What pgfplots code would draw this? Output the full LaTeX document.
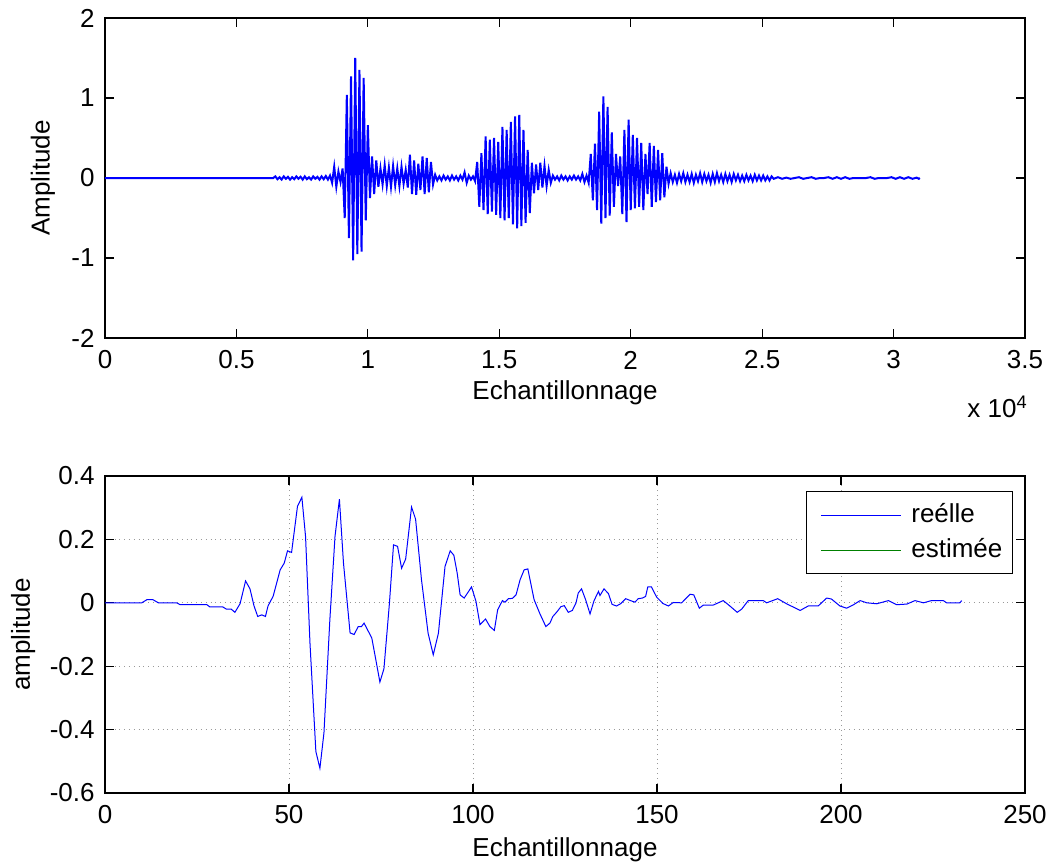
\documentclass[border=0pt]{standalone}
\usepackage{fontspec}
\setmainfont{Liberation Sans}
\usepackage{pgfplots}
\pgfplotsset{compat=1.18}
\definecolor{mblue}{RGB}{0,0,255}
\definecolor{mgreen}{RGB}{0,128,0}
\pgfplotsset{
  mstyle/.style={
    scale only axis, width=460pt,
    axis line style={line width=0.8pt},
    tick style={black, line width=0.6pt},
    major tick length=4.5pt,
    tick align=inside,
    xtick pos=both, ytick pos=both,
    /pgf/number format/assume math mode=true,
    tick label style={font=\fontsize{13pt}{15.6pt}\selectfont},
    label style={font=\fontsize{13pt}{15.6pt}\selectfont},
    xticklabel style={anchor=center, yshift=-11pt},
    yticklabel style={anchor=east, inner sep=0pt, xshift=-5pt},
    scaled ticks=false,
    clip=true,
  }
}
\pgfplotstableread{
x y
0 0
6400 0
6480 0.02
6560 -0.015
6640 0.01
6720 -0.02
6800 0.02
6880 -0.01
6960 0.015
7040 -0.02
7120 0.01
7200 -0.015
7280 0.02
7360 -0.01
7440 0.015
7520 -0.02
7600 0.02
7680 -0.015
7760 0.01
7840 -0.02
7920 0.02
8000 -0.01
8080 0.015
8160 -0.02
8240 0.02
8320 -0.015
8400 0.025
8480 -0.02
8560 0.03
8640 -0.06
8720 0.14
8800 -0.11
8880 0.08
8960 -0.05
9040 0.12
9120 -0.5
9200 1.04
9280 -0.75
9360 1.27
9440 -1.03
9520 1.5
9600 -0.95
9680 1.35
9760 -0.92
9840 1.25
9920 -0.53
10000 0.66
10080 -0.25
10160 0.27
10240 -0.2
10320 0.22
10400 -0.11
10480 0.12
10560 -0.08
10640 0.16
10720 -0.1
10800 0.13
10880 -0.11
10960 0.15
11040 -0.09
11120 0.12
11200 -0.1
11280 0.14
11360 -0.07
11440 0.1
11520 -0.12
11600 0.29
11680 -0.2
11760 0.22
11840 -0.21
11920 0.18
12000 -0.15
12080 0.27
12160 -0.2
12240 0.25
12320 -0.18
12400 0.2
12480 -0.08
12560 0.04
12640 -0.03
12720 0.02
12800 -0.03
12880 0.03
12960 -0.02
13040 0.02
13120 -0.03
13200 0.03
13280 -0.02
13360 0.02
13440 -0.03
13520 0.03
13600 -0.02
13680 0.07
13760 -0.06
13840 0.03
13920 -0.02
14000 0.02
14080 -0.04
14160 0.2
14240 -0.36
14320 0.31
14400 -0.4
14480 0.52
14560 -0.45
14640 0.48
14720 -0.42
14800 0.5
14880 -0.46
14960 0.45
15040 -0.5
15120 0.64
15200 -0.53
15280 0.6
15360 -0.5
15440 0.7
15520 -0.58
15600 0.77
15680 -0.63
15760 0.79
15840 -0.6
15920 0.6
16000 -0.56
16080 0.35
16160 -0.44
16240 0.19
16320 -0.19
16400 0.17
16480 -0.15
16560 0.19
16640 -0.12
16720 0.15
16800 -0.1
16880 0.1
16960 -0.06
17040 0.03
17120 -0.02
17200 0.02
17280 -0.03
17360 0.03
17440 -0.02
17520 0.02
17600 -0.03
17680 0.02
17760 -0.02
17840 0.03
17920 -0.02
18000 0.02
18080 -0.03
18160 0.05
18240 -0.05
18320 0.03
18400 -0.06
18480 0.3
18560 -0.28
18640 0.43
18720 -0.4
18800 0.83
18880 -0.57
18960 1.02
19040 -0.5
19120 0.89
19200 -0.47
19280 0.57
19360 -0.36
19440 0.3
19520 -0.1
19600 0.27
19680 -0.45
19760 0.6
19840 -0.55
19920 0.73
20000 -0.4
20080 0.54
20160 -0.38
20240 0.5
20320 -0.36
20400 0.44
20480 -0.4
20560 0.3
20640 -0.2
20720 0.44
20800 -0.36
20880 0.4
20960 -0.3
21040 0.35
21120 -0.28
21200 0.31
21280 -0.24
21360 0.14
21440 -0.07
21520 0.06
21600 -0.05
21680 0.04
21760 -0.06
21840 0.05
21920 -0.04
22000 0.06
22080 -0.05
22160 0.04
22240 -0.05
22320 0.05
22400 -0.06
22480 0.04
22560 -0.04
22640 0.06
22720 -0.05
22800 0.05
22880 -0.04
22960 0.04
23040 -0.06
23120 0.05
23200 -0.05
23280 0.06
23360 -0.04
23440 0.04
23520 -0.05
23600 0.05
23680 -0.04
23760 0.04
23840 -0.05
23920 0.05
24000 -0.03
24080 0.04
24160 -0.04
24240 0.03
24320 -0.04
24400 0.04
24480 -0.03
24560 0.03
24640 -0.04
24720 0.04
24800 -0.03
24880 0.03
24960 -0.03
25040 0.03
25120 -0.03
25200 0.02
25280 -0.03
25360 0.02
25440 -0.01
25600 0.01
25760 -0.01
25920 0.005
26080 -0.01
26240 0
26400 0.01
26560 -0.01
26720 0
26880 0.01
27040 -0.01
27200 0
27360 0
27520 0.01
27680 -0.01
27840 0.01
28000 -0.01
28160 0.01
28320 -0.01
28480 0
28640 0
28800 0
28960 0
29120 0.01
29280 -0.01
29440 0
29600 0
29760 0
29920 0.01
30080 -0.01
30240 0.01
30400 -0.01
30560 0.01
30720 -0.01
30880 0.005
30960 -0.01
31000 0
}\signal
\pgfplotstableread{
x y
0 0
10 0
11.4 0.01
13 0.01
14.5 0
19.5 0
20.4 -0.006
27.7 -0.006
28.5 -0.013
32 -0.013
33 -0.02
34.3 -0.02
35.3 -0.03
36.7 -0.003
38.2 0.069
39.4 0.044
40.5 -0.01
41.5 -0.043
42.6 -0.038
43.6 -0.043
44.3 -0.01
45.7 0.021
47.6 0.104
48.7 0.125
49.6 0.164
50.7 0.159
52.3 0.304
53.5 0.333
54.5 0.209
55.7 -0.127
57.3 -0.469
58.4 -0.522
59.5 -0.41
61.1 -0.054
62.5 0.209
63.7 0.327
64.8 0.126
66.6 -0.095
67.7 -0.1
68.8 -0.075
69.7 -0.075
70.4 -0.064
72.5 -0.111
73.6 -0.18
74.7 -0.25
75.8 -0.208
77.3 0
78.4 0.183
79.5 0.178
80.6 0.109
81.7 0.138
82.4 0.209
83.3 0.302
84.4 0.264
86.0 0.073
87.8 -0.096
89.2 -0.164
90.6 -0.096
92.4 0.115
93.8 0.164
94.8 0.150
95.7 0.094
96.5 0.025
97.6 0.015
99.6 0.05
100.8 0.005
101.9 -0.069
103.4 -0.051
104.6 -0.075
105.8 -0.087
106.7 -0.022
108 0.007
108.7 0.002
109.6 0.013
110.7 0.014
111.7 0.025
112.8 0.073
113.9 0.104
114.9 0.107
116.6 0.01
118.2 -0.035
119.8 -0.075
120.9 -0.064
121.7 -0.043
122.7 -0.03
123.9 -0.012
124.8 -0.009
125.9 -0.03
127 -0.024
128 0
128.6 0.031
129.5 0.044
130.6 0.01
131.8 -0.035
132.9 0.007
134.1 0.036
134.5 0.023
135.6 0.044
136.8 0.029
137.8 -0.005
139 -0.01
140.1 -0.003
141.5 0.013
142.8 0.007
144 0.002
144.9 0.013
146 0.015
146.9 0.02
147.5 0.05
148.5 0.05
149.9 0.018
151.6 -0.002
153.1 -0.01
154.4 0.001
156.7 0
159 0.027
160 0.025
161.5 -0.017
162.6 -0.007
165.3 -0.007
168 0.007
169.8 -0.01
171.8 -0.03
173 -0.02
174.8 0.007
178.9 0.007
179.8 0
182.8 0.013
185.2 -0.003
188.9 -0.024
191.1 -0.01
193.8 -0.01
196.1 0.015
197.4 0.012
199.7 -0.01
201.5 -0.017
203.4 -0.006
205.2 0.007
207 0
209.7 -0.003
212.9 0.007
215.1 -0.006
217.9 -0.004
220.1 0.007
222.4 0
224.6 0.007
227.8 0.007
228.7 0
232.3 0
232.8 0.007
}\zoomed
\begin{document}
\fontsize{13pt}{15.6pt}\selectfont
\begin{tikzpicture}
\useasboundingbox (-52.5pt,-264.5pt) rectangle (474.5pt,169pt);
\begin{axis}[mstyle, name=top, at={(0,0)}, anchor=south west,
  height=160pt,
  xmin=0, xmax=35000, ymin=-2, ymax=2,
  xtick={0,5000,10000,15000,20000,25000,30000,35000},
  xticklabels={0,0.5,1,1.5,2,2.5,3,3.5},
  ytick={-2,-1,0,1,2},
  xlabel={Echantillonnage}, ylabel={Amplitude},
  xlabel style={at={(axis description cs:0.5,0)}, anchor=center, yshift=-27.5pt},
  ylabel style={at={(axis description cs:-0.0674,0.5)}, anchor=center},
]
\addplot[mblue, line width=1pt] table[x=x,y=y] {\signal};
\end{axis}
\node[anchor=base west, inner sep=0pt] at (431pt,-39.5pt) {x 10\textsuperscript{4}};
\begin{axis}[mstyle, name=bot, at={(0,-227.5pt)}, anchor=south west,
  height=158.5pt,
  xmin=0, xmax=250, ymin=-0.6, ymax=0.4,
  xtick={0,50,100,150,200,250},
  ytick={-0.6,-0.4,-0.2,0,0.2,0.4},
  yticklabels={-0.6,-0.4,-0.2,0,0.2,0.4},
  grid=major,
  major grid style={gray!80, dotted, line width=0.5pt},
  xlabel={Echantillonnage}, ylabel={amplitude},
  xlabel style={at={(axis description cs:0.5,0)}, anchor=center, yshift=-28.5pt},
  ylabel style={at={(axis description cs:-0.089,0.5)}, anchor=center},
  legend style={at={(1,1)}, anchor=north east, xshift=-6pt, yshift=-7.5pt,
    draw=black, line width=0.6pt, font=\fontsize{13pt}{15.6pt}\selectfont,
    inner xsep=3pt, inner ysep=4pt, row sep=2pt},
  legend cell align=left,
  legend image code/.code={\path (0pt,0pt) (47pt,0pt);
    \draw[#1, line width=0.5pt] (4pt,0pt) -- (44pt,0pt);},
]
\addplot[mblue, line width=0.5pt] table[x=x,y=y] {\zoomed};
\addlegendentry{reélle}
\addlegendimage{mgreen, line width=0.5pt}
\addlegendentry{estimée}
\end{axis}
\end{tikzpicture}
\end{document}
